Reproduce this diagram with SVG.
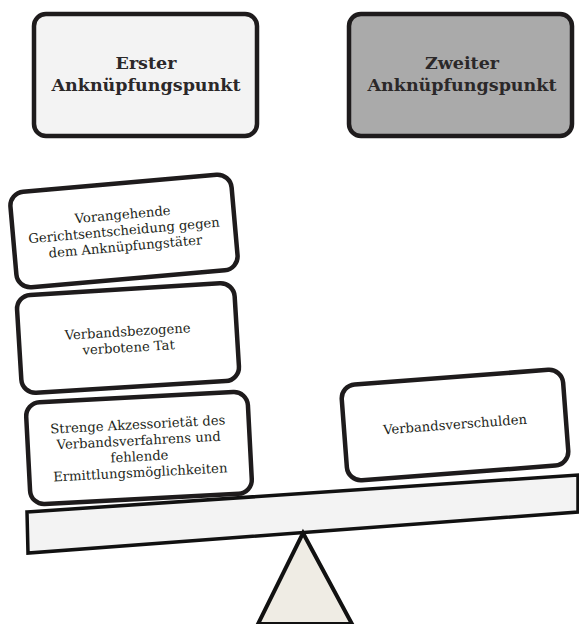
<svg xmlns="http://www.w3.org/2000/svg" width="579" height="624" viewBox="0 0 579 624">
<style>
.box{stroke:#1e1b1c;stroke-width:4.5}
.hd{font-family:"DejaVu Serif","Liberation Serif",serif;font-weight:bold;font-size:17.5px;fill:#2b2829;text-anchor:middle}
.tx{font-family:"DejaVu Serif","Liberation Serif",serif;font-size:13.2px;fill:#231f20;text-anchor:middle}
</style>
<rect width="579" height="624" fill="#fff"/>
<g id="beam">
<polygon points="27,512 578,475 578,512 28,553" fill="#f3f3f3" stroke="#111" stroke-width="3.5" stroke-linejoin="miter"/>
</g>
<g id="fulcrum">
<polygon points="303,533 352,624 258,624" fill="#efece4" stroke="#111" stroke-width="4" stroke-linejoin="miter"/>
</g>
<g id="erster">
<rect class="box" x="34" y="14" width="223" height="122" rx="12" fill="#f3f3f3"/>
<text class="hd" x="146" y="69">Erster</text>
<text class="hd" x="146" y="91">Anknüpfungspunkt</text>
</g>
<g id="zweiter">
<rect class="box" x="349" y="14" width="223" height="122" rx="12" fill="#aaaaaa"/>
<text class="hd" x="462" y="69">Zweiter</text>
<text class="hd" x="462" y="91">Anknüpfungspunkt</text>
</g>
<g id="vorangehende" transform="translate(124,231) rotate(-5)">
<rect class="box" x="-111" y="-48" width="222" height="96" rx="14" fill="#fff"/>
<text class="tx" x="0" y="-12">Vorangehende</text>
<text class="tx" x="0" y="4">Gerichtsentscheidung gegen</text>
<text class="tx" x="0" y="20">dem Anknüpfungstäter</text>
</g>
<g id="verbandsbezogene" transform="translate(128,338) rotate(-3.5)">
<rect class="box" x="-109" y="-49" width="218" height="98" rx="14" fill="#fff"/>
<text class="tx" x="0" y="-2">Verbandsbezogene</text>
<text class="tx" x="0" y="14">verbotene Tat</text>
</g>
<g id="strenge" transform="translate(139,448) rotate(-3)">
<rect class="box" x="-111" y="-51" width="222" height="102" rx="14" fill="#fff"/>
<text class="tx" x="0" y="-19">Strenge Akzessorietät des</text>
<text class="tx" x="0" y="-3">Verbandsverfahrens und</text>
<text class="tx" x="0" y="13">fehlende</text>
<text class="tx" x="0" y="29">Ermittlungsmöglichkeiten</text>
</g>
<g id="verbandsverschulden" transform="translate(455,425) rotate(-4.3)">
<rect class="box" x="-111" y="-48" width="222" height="96" rx="14" fill="#fff"/>
<text class="tx" x="0" y="4">Verbandsverschulden</text>
</g>
<g id="connectors"/>
</svg>
